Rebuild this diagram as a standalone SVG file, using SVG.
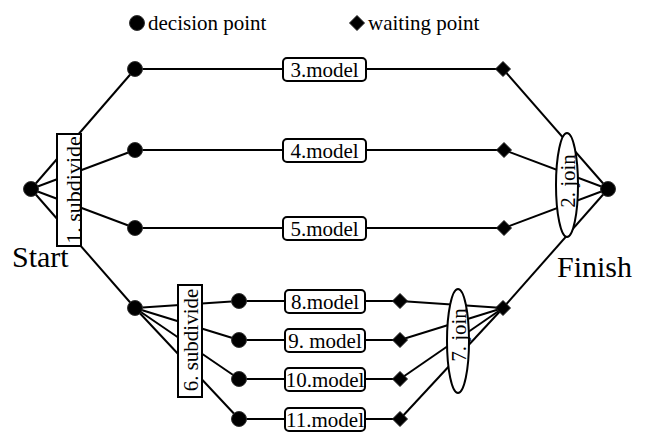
<svg xmlns="http://www.w3.org/2000/svg" width="647" height="433" viewBox="0 0 647 433" font-family="'Liberation Serif', 'DejaVu Serif', serif">
  <style>
    .ln { stroke: #000; stroke-width: 2; fill: none; }
    .dp { fill: #000; stroke: #333; stroke-width: 1; }
    .wp { fill: #000; stroke: #222; stroke-width: 1; }
    .box { fill: #fff; stroke: #000; stroke-width: 2; }
    text { font-family: 'Liberation Serif', 'DejaVu Serif', serif; fill: #000; }
    .lbl { font-size: 21px; text-anchor: middle; }
    .big { font-size: 30px; }
  </style>
  <defs>
    <circle id="dot" r="7.5" class="dp"/>
    <polygon id="dia" points="0,-7.5 7.5,0 0,7.5 -7.5,0" class="wp"/>
  </defs>
  <rect width="647" height="433" fill="#fff"/>

  <!-- legend -->
  <g id="legend">
    <use href="#dot" x="137" y="23"/>
    <text x="148" y="30" font-size="21" font-family="Liberation Serif">decision point</text>
    <use href="#dia" x="357" y="23"/>
    <text x="368" y="30" font-size="21" font-family="Liberation Serif">waiting point</text>
  </g>

  <!-- connectors -->
  <g id="connectors" class="ln">
    <!-- start fan-out -->
    <line x1="31" y1="189" x2="135" y2="69"/>
    <line x1="31" y1="189" x2="135" y2="150"/>
    <line x1="31" y1="189" x2="135" y2="228"/>
    <line x1="31" y1="189" x2="135" y2="308"/>
    <!-- model lanes -->
    <line x1="135" y1="69" x2="503" y2="69"/>
    <line x1="135" y1="150" x2="504" y2="150"/>
    <line x1="135" y1="228" x2="504" y2="228"/>
    <!-- finish fan-in -->
    <line x1="503" y1="69" x2="608" y2="189"/>
    <line x1="504" y1="150" x2="608" y2="189"/>
    <line x1="504" y1="228" x2="608" y2="189"/>
    <line x1="503" y1="308" x2="608" y2="189"/>
    <!-- lower fan-out -->
    <line x1="135" y1="308" x2="239" y2="301"/>
    <line x1="135" y1="308" x2="239" y2="340"/>
    <line x1="135" y1="308" x2="239" y2="379"/>
    <line x1="135" y1="308" x2="239" y2="419"/>
    <!-- lower lanes -->
    <line x1="239" y1="301" x2="400" y2="301"/>
    <line x1="239" y1="340" x2="400" y2="340"/>
    <line x1="239" y1="379" x2="400" y2="379"/>
    <line x1="239" y1="419" x2="400" y2="419"/>
    <!-- lower fan-in -->
    <line x1="400" y1="301" x2="503" y2="308"/>
    <line x1="400" y1="340" x2="503" y2="308"/>
    <line x1="400" y1="379" x2="503" y2="308"/>
    <line x1="400" y1="419" x2="503" y2="308"/>
  </g>

  <!-- start / finish -->
  <g id="start">
    <use href="#dot" x="31" y="189"/>
    <text class="big" x="12" y="267" font-family="Liberation Serif">Start</text>
  </g>
  <g id="finish">
    <use href="#dot" x="608" y="189"/>
    <text class="big" x="557" y="277" font-family="Liberation Serif">Finish</text>
  </g>

  <!-- 1. subdivide -->
  <g id="subdivide1">
    <rect class="box" x="57" y="134" width="24" height="112"/>
    <text font-size="22" text-anchor="middle" font-family="Liberation Serif" transform="translate(81 190) rotate(-90)">1. subdivide</text>
  </g>

  <!-- 2. join -->
  <g id="join2">
    <ellipse class="box" cx="567" cy="185" rx="11" ry="52"/>
    <text font-size="21" text-anchor="middle" font-family="Liberation Serif" transform="translate(575 181) rotate(-90)">2. join</text>
  </g>

  <!-- decision points -->
  <g id="d3"><use href="#dot" x="135" y="69"/></g>
  <g id="d4"><use href="#dot" x="135" y="150"/></g>
  <g id="d5"><use href="#dot" x="135" y="228"/></g>
  <g id="d6"><use href="#dot" x="135" y="308"/></g>

  <!-- waiting points -->
  <g id="w3"><use href="#dia" x="503" y="69"/></g>
  <g id="w4"><use href="#dia" x="504" y="150"/></g>
  <g id="w5"><use href="#dia" x="504" y="228"/></g>

  <!-- models 3-5 -->
  <g id="model3">
    <rect class="box" x="283" y="58" width="83" height="23" rx="4"/>
    <text class="lbl" x="324.5" y="76.5" font-family="Liberation Serif">3.model</text>
  </g>
  <g id="model4">
    <rect class="box" x="283" y="139" width="83" height="23" rx="4"/>
    <text class="lbl" x="324.5" y="157.5" font-family="Liberation Serif">4.model</text>
  </g>
  <g id="model5">
    <rect class="box" x="283" y="217" width="83" height="23" rx="4"/>
    <text class="lbl" x="324.5" y="235.5" font-family="Liberation Serif">5.model</text>
  </g>

  <!-- 6. subdivide -->
  <g id="subdivide6">
    <rect class="box" x="178" y="285" width="24" height="112"/>
    <text font-size="21" text-anchor="middle" font-family="Liberation Serif" transform="translate(198 340) rotate(-90)">6. subdivide</text>
  </g>

  <!-- lower decision points -->
  <g id="d8"><use href="#dot" x="239" y="301"/></g>
  <g id="d9"><use href="#dot" x="239" y="340"/></g>
  <g id="d10"><use href="#dot" x="239" y="379"/></g>
  <g id="d11"><use href="#dot" x="239" y="419"/></g>

  <!-- models 8-11 -->
  <g id="model8">
    <rect class="box" x="285" y="290" width="80" height="23" rx="4"/>
    <text class="lbl" x="325" y="308.5" font-family="Liberation Serif">8.model</text>
  </g>
  <g id="model9">
    <rect class="box" x="285" y="329" width="80" height="23" rx="4"/>
    <text class="lbl" x="325" y="347.5" font-family="Liberation Serif">9. model</text>
  </g>
  <g id="model10">
    <rect class="box" x="285" y="368" width="80" height="23" rx="4"/>
    <text class="lbl" x="325" y="386.5" font-size="20.5" font-family="Liberation Serif">10.model</text>
  </g>
  <g id="model11">
    <rect class="box" x="285" y="408" width="80" height="23" rx="4"/>
    <text class="lbl" x="325" y="426.5" font-size="20.5" font-family="Liberation Serif">11.model</text>
  </g>

  <!-- lower waiting points -->
  <g id="w8"><use href="#dia" x="400" y="301"/></g>
  <g id="w9"><use href="#dia" x="400" y="340"/></g>
  <g id="w10"><use href="#dia" x="400" y="379"/></g>
  <g id="w11"><use href="#dia" x="400" y="419"/></g>

  <!-- 7. join -->
  <g id="join7">
    <ellipse class="box" cx="458" cy="341" rx="11" ry="52"/>
    <text font-size="21" text-anchor="middle" font-family="Liberation Serif" transform="translate(466 335) rotate(-90)">7. join</text>
  </g>
  <g id="w7"><use href="#dia" x="503" y="308"/></g>
</svg>
